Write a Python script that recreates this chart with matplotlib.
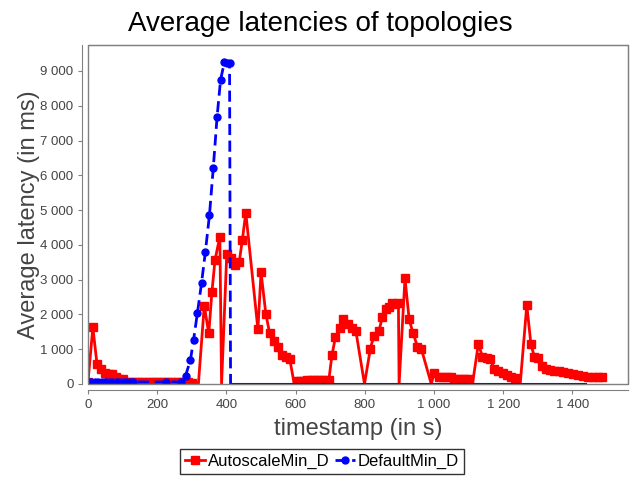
import matplotlib
matplotlib.use('Agg')
import matplotlib.pyplot as plt
from matplotlib.patches import Rectangle
from matplotlib.ticker import FuncFormatter, MultipleLocator

plt.rcParams['font.family'] = ['Liberation Sans', 'DejaVu Sans']

# AutoscaleMin_D
auto_t = [0, 14, 26, 37, 48, 60, 70, 81, 91, 101, 112, 124, 136, 148, 160, 172,
          184, 196, 208, 220, 232, 244, 256, 268, 280, 290, 300, 319, 336, 349,
          358, 367, 381, 386, 401, 414, 425, 437, 446, 456, 491, 500, 514, 525,
          537, 549, 560, 572, 583, 596, 604, 614, 624, 634, 644, 654, 664, 674,
          684, 696, 705, 715, 728, 738, 752, 763, 774, 799, 816, 826, 841, 850,
          860, 870, 879, 888, 897, 899, 916, 928, 939, 952, 963, 992, 1000, 1014,
          1025, 1037, 1048, 1058, 1069, 1080, 1090, 1101, 1111, 1128, 1140, 1153,
          1162, 1174, 1186, 1198, 1211, 1222, 1234, 1249, 1268, 1280, 1290, 1301,
          1312, 1324, 1335, 1348, 1360, 1372, 1386, 1401, 1415, 1430, 1444, 1459,
          1473, 1486]
auto_lat = [60, 1630, 575, 420, 305, 300, 295, 215, 155, 140, 60, 60, 60, 60, 60, 60,
            60, 60, 60, 60, 60, 60, 60, 60, 60, 55, 40, 0, 2250, 1455,
            2635, 3565, 4235, 0, 3740, 3610, 3420, 3510, 4140, 4925, 1570, 3210, 2010, 1455,
            1245, 1055, 835, 785, 720, 0, 80, 95, 100, 105, 110, 110, 110, 115,
            115, 115, 835, 1340, 1620, 1870, 1725, 1620, 1525, 0, 1020, 1380, 1525, 1915,
            2145, 2205, 2320, 2310, 2320, 0, 3040, 1860, 1475, 1075, 1020, 0, 305, 210,
            210, 205, 200, 150, 145, 145, 140, 140, 0, 1150, 785, 760,
            730, 420, 385, 305, 260, 210, 165, 0, 2270, 1140, 785, 755,
            520, 420, 400, 385, 365, 345, 325, 290, 250, 230, 210, 200,
            190, 190]

# DefaultMin_D
default_t = [0, 10, 20, 30, 40, 50, 60, 70, 80, 90, 100, 110, 120, 130, 224, 270,
             282, 296, 305, 316, 328, 339, 351, 362, 373, 383, 394, 403, 409, 412, 1440]
default_lat = [60, 60, 60, 60, 60, 60, 60, 60, 60, 60, 60, 60, 60, 60, 60, 60,
               240, 690, 1265, 2030, 2895, 3785, 4860, 6210, 7680, 8740, 9250, 9240, 9230, 0, 0]

fig = plt.figure(figsize=(6.4, 4.8), dpi=100)
ax = fig.add_axes([0.1375, 0.2, 0.8435, 0.706])

# markers hidden where the value sits on the zero line
auto_marks = [i for i, v in enumerate(auto_lat) if v > 0]
def_marks = [i for i, v in enumerate(default_lat) if v > 0]
tail = def_marks[-1] + 1

ax.plot(auto_t, auto_lat, color='#ff0000', lw=2, marker='s', ms=5.5,
        markevery=auto_marks, label='AutoscaleMin_D')
ax.plot(default_t[:tail + 1], default_lat[:tail + 1], color='#0000ff', lw=2,
        ls=(0, (4, 2)), marker='o', ms=5, markevery=def_marks, label='DefaultMin_D')
ax.plot(default_t[tail:], default_lat[tail:], color='#0000cc', lw=1.5, clip_on=False)

ax.set_xlim(0, 1560)
ax.set_ylim(0, 9744)
ax.xaxis.set_major_locator(MultipleLocator(200))
ax.yaxis.set_major_locator(MultipleLocator(1000))
fmt = FuncFormatter(lambda v, p: '{:,.0f}'.format(v).replace(',', ' '))
ax.xaxis.set_major_formatter(fmt)
ax.yaxis.set_major_formatter(fmt)

for s in ax.spines.values():
    s.set_color('#808080')
ax.spines['left'].set_position(('outward', 4))
ax.spines['bottom'].set_position(('outward', 4))
ax.add_patch(Rectangle((0, 0), 1, 1, transform=ax.transAxes, fill=False,
                       ec='#808080', lw=1, clip_on=False, zorder=5))
ax.tick_params(colors='#808080', labelcolor='#444444', labelsize=9.5, length=3,
               width=0.8)

fig.suptitle('Average latencies of topologies', fontsize=20, y=0.977, color='black')
ax.set_xlabel('timestamp (in s)', fontsize=17, color='#444444')
ax.set_ylabel('Average latency (in ms)', fontsize=17, color='#444444')
ax.xaxis.set_label_coords(0.5, -0.1)
ax.yaxis.set_label_coords(-0.088, 0.5)

leg = fig.legend(loc='center', bbox_to_anchor=(0.503, 0.038), ncol=2,
                 fontsize=12, frameon=True, fancybox=False, handlelength=1.2,
                 handletextpad=0.2, columnspacing=0.3, borderpad=0.3)
leg.get_frame().set_edgecolor('black')
leg.get_frame().set_linewidth(1)

fig.savefig('out.png', dpi=100)
